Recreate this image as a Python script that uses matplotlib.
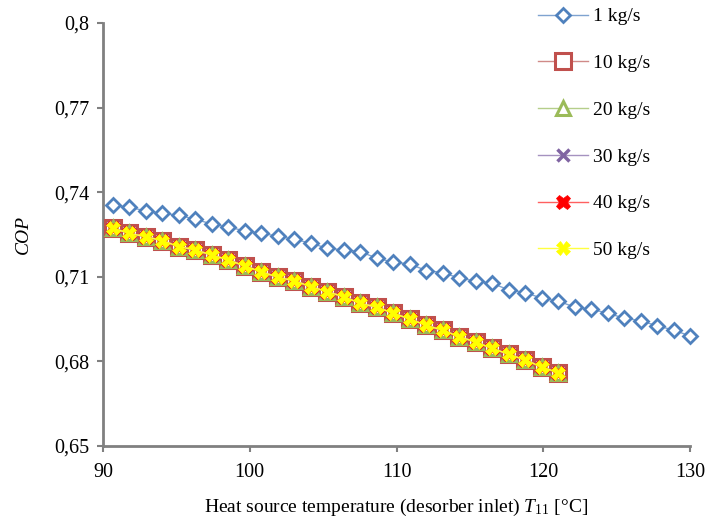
import matplotlib
matplotlib.use("Agg")
import matplotlib.pyplot as plt

plt.rcParams['font.family'] = ['Liberation Serif', 'DejaVu Serif']
plt.rcParams['mathtext.fontset'] = 'custom'
plt.rcParams['mathtext.rm'] = 'Liberation Serif'
plt.rcParams['mathtext.it'] = 'Liberation Serif:italic'

# ---- data ----
temp_1 = [90.68, 91.80, 92.93, 94.05, 95.18, 96.30, 97.42, 98.55, 99.67, 100.80,
          101.92, 103.04, 104.17, 105.29, 106.42, 107.54, 108.66, 109.79, 110.91, 112.04,
          113.16, 114.28, 115.41, 116.53, 117.66, 118.78, 119.90, 121.03, 122.15, 123.28,
          124.40, 125.52, 126.65, 127.77, 128.90, 130.00]
cop_1 = [0.7355, 0.7346, 0.7334, 0.7325, 0.7318, 0.7304, 0.7287, 0.7276, 0.7263, 0.7254,
         0.7244, 0.7233, 0.7219, 0.7201, 0.7195, 0.7189, 0.7166, 0.7152, 0.7145, 0.7122,
         0.7115, 0.7095, 0.7085, 0.7077, 0.7053, 0.7044, 0.7024, 0.7014, 0.6992, 0.6985,
         0.6971, 0.6953, 0.6944, 0.6926, 0.6911, 0.6890]

temp_hi = [90.68, 91.80, 92.93, 94.05, 95.18, 96.30, 97.42, 98.55, 99.67, 100.80,
           101.92, 103.04, 104.17, 105.29, 106.42, 107.54, 108.66, 109.79, 110.91, 112.04,
           113.16, 114.28, 115.41, 116.53, 117.66, 118.78, 119.90, 121.03]
cop_10 = [0.7272, 0.7254, 0.7242, 0.7228, 0.7207, 0.7195, 0.7177, 0.7160, 0.7138, 0.7118,
          0.7098, 0.7086, 0.7065, 0.7047, 0.7029, 0.7006, 0.6992, 0.6971, 0.6950, 0.6928,
          0.6910, 0.6888, 0.6868, 0.6846, 0.6825, 0.6805, 0.6780, 0.6760]
cop_20 = list(cop_10)
cop_30 = list(cop_10)
cop_40 = list(cop_10)
cop_50 = list(cop_10)

labels = ['1 kg/s', '10 kg/s', '20 kg/s', '30 kg/s', '40 kg/s', '50 kg/s']
x_ticks = [90, 100, 110, 120, 130]
y_ticks = [0.65, 0.68, 0.71, 0.74, 0.77, 0.80]
y_tick_labels = ['0,65', '0,68', '0,71', '0,74', '0,77', '0,8']

# ---- figure ----
fig = plt.figure(figsize=(7.08, 5.22), dpi=100)
ax = fig.add_axes([103/708, 1-446/522, (690-103)/708, (446-23)/522])

ax.plot(temp_1, cop_1, color='#7FA3D0', lw=1.0, marker='D', ms=7.5,
        mfc='white', mec='#4F81BD', mew=2.0, label=labels[0], zorder=3, clip_on=False)
ax.plot(temp_hi, cop_10, color='#D08A88', lw=1.0, marker='s', ms=11,
        mfc='white', mec='#C0504D', mew=2.2, label=labels[1], zorder=3, clip_on=False)
ax.plot(temp_hi, cop_20, color='#B5CE8A', lw=1.0, marker='^', ms=9.5,
        mfc='white', mec='#9BBB59', mew=2.2, label=labels[2], zorder=4, clip_on=False)
ax.plot(temp_hi, cop_30, color='#A592C0', lw=1.0, marker='x', ms=9,
        mec='#8064A2', mew=2.5, label=labels[3], zorder=5, clip_on=False)
ax.plot(temp_hi, cop_40, color='#FF6060', lw=1.0, marker='X', ms=10.5,
        mfc='#FF0000', mec='#FF0000', mew=0.5, label=labels[4], zorder=6, clip_on=False)
ax.plot(temp_hi, cop_50, color='#FFFF40', lw=1.0, marker='X', ms=9.5,
        mfc='#FFFF00', mec='#FFFF00', mew=0.5, label=labels[5], zorder=7, clip_on=False)

ax.set_xlim(90, 130)
ax.set_ylim(0.65, 0.80)
ax.set_xticks(x_ticks)
ax.set_xticklabels([str(t) for t in x_ticks])
ax.set_yticks(y_ticks)
ax.set_yticklabels(y_tick_labels)
ax.tick_params(axis='both', labelsize=14.5, length=4, width=1.5, color='#808080',
               direction='out')
ax.tick_params(axis='x', pad=8)
ax.tick_params(axis='y', pad=6)

for s in ['top', 'right']:
    ax.spines[s].set_visible(False)
for s in ['left', 'bottom']:
    ax.spines[s].set_color('#808080')
    ax.spines[s].set_linewidth(2.0)

ax.set_xlabel(r'Heat source temperature (desorber inlet) $\mathit{T}_{11}$ [°C]',
              fontsize=14, labelpad=11)
ax.set_ylabel('COP', fontsize=14, style='italic', labelpad=16)

leg = fig.legend(loc='upper left', bbox_to_anchor=(530/708, 1.0), frameon=False,
                 fontsize=14, labelspacing=1.5, handlelength=2.6,
                 handletextpad=0.25, borderaxespad=0.0)

fig.savefig('out.png', dpi=100)
